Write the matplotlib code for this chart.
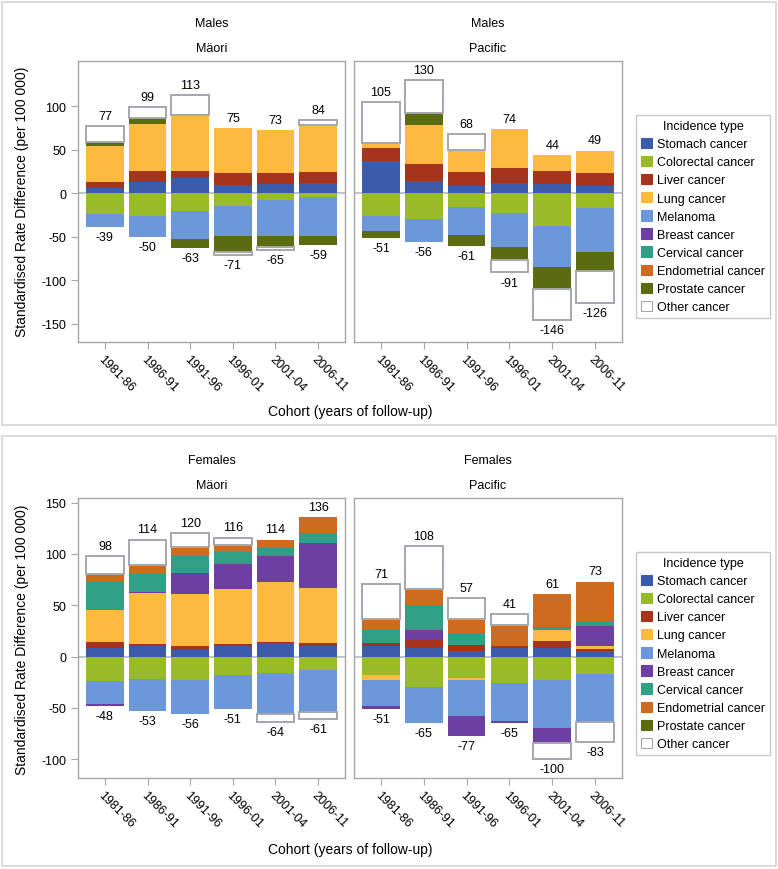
import numpy as np
import matplotlib.pyplot as plt
from matplotlib.patches import Patch, Rectangle

plt.rcParams['font.family'] = ['Liberation Sans', 'DejaVu Sans']
plt.rcParams['axes.unicode_minus'] = False
SIZE = 9

cohorts = ['1981-86', '1986-91', '1991-96', '1996-01', '2001-04', '2006-11']
cancers = ['Stomach cancer', 'Colorectal cancer', 'Liver cancer', 'Lung cancer',
           'Melanoma', 'Breast cancer', 'Cervical cancer', 'Endometrial cancer',
           'Prostate cancer', 'Other cancer']
colors = ['#3d5bab', '#9abb29', '#a6331c', '#fcbb40', '#6c97d8',
          '#6e3fa2', '#2f9f86', '#cf6a21', '#5a6b11', 'white']

# rows follow `cancers`, columns follow `cohorts`
males_maori = [
    [6, 13, 17, 10, 11, 12],
    [-24, -26, -20, -15, -8, -4],
    [7, 12, 9, 13, 12, 12],
    [41, 55, 64, 52, 50, 55],
    [-15, -24, -33, -34, -41, -45],
    [0, 0, 0, 0, 0, 0],
    [0, 0, 0, 0, 0, 0],
    [0, 0, 0, 0, 0, 0],
    [5, 6, -10, -19, -13, -10],
    [18, 13, 23, -3, -3, 5],
]
males_pacific = [
    [37, 14, 8, 12, 11, 8],
    [-26, -30, -16, -23, -38, -17],
    [15, 20, 16, 17, 15, 15],
    [6, 44, 26, 45, 18, 26],
    [-17, -26, -32, -39, -47, -50],
    [0, 0, 0, 0, 0, 0],
    [0, 0, 0, 0, 0, 0],
    [0, 0, 0, 0, 0, 0],
    [-8, 14, -13, -15, -25, -22],
    [47, 38, 18, -14, -36, -37],
]
females_maori = [
    [8, 10, 6, 10, 13, 10],
    [-24, -22, -23, -18, -16, -13],
    [6, 2, 4, 2, 1, 3],
    [31, 50, 51, 54, 59, 54],
    [-22, -31, -33, -33, -40, -41],
    [-2, 1, 20, 24, 25, 44],
    [28, 17, 17, 12, 8, 9],
    [7, 9, 9, 7, 8, 16],
    [0, 0, 0, 0, 0, 0],
    [18, 25, 13, 7, -8, -7],
]
females_pacific = [
    [10, 8, 5, 8, 8, 5],
    [-18, -30, -21, -26, -23, -17],
    [3, 8, 6, 2, 7, 2],
    [-5, 0, -2, 0, 11, 3],
    [-25, -35, -35, -37, -47, -47],
    [-3, 10, -19, -2, -14, 20],
    [13, 24, 12, 0, 3, 5],
    [11, 16, 14, 21, 32, 38],
    [0, 0, 0, 0, 0, 0],
    [34, 42, 20, 10, -16, -19],
]

W, H = 778, 870
fig = plt.figure(figsize=(W / 100, H / 100), dpi=100)


def fx(px):
    return px / W


def fy(py):
    return 1 - py / H


GREY = '#a4a8ac'


def draw_panel(ax, data, ylim, yticks, show_y):
    x = np.arange(len(cohorts))
    pos = np.zeros(len(cohorts))
    neg = np.zeros(len(cohorts))
    for name, col, vals in zip(cancers, colors, data):
        vals = np.array(vals, float)
        edge = GREY if name == 'Other cancer' else 'none'
        lw = 1.4 if name == 'Other cancer' else 0
        m = vals > 0
        if m.any():
            ax.bar(x[m], vals[m], bottom=pos[m], width=0.88, color=col,
                   edgecolor=edge, linewidth=lw, zorder=2)
            pos[m] += vals[m]
        m = vals < 0
        if m.any():
            ax.bar(x[m], vals[m], bottom=neg[m], width=0.88, color=col,
                   edgecolor=edge, linewidth=lw, zorder=2)
            neg[m] += vals[m]
    for xi, p, n in zip(x, pos, neg):
        ax.annotate('%d' % p, (xi, p), xytext=(0, 3), textcoords='offset points',
                    ha='center', va='bottom', fontsize=SIZE)
        ax.annotate('%d' % n, (xi, n), xytext=(0, -3), textcoords='offset points',
                    ha='center', va='top', fontsize=SIZE)
    ax.axhline(0, color='#b8bec4', lw=1.3, zorder=1)
    ax.set_xlim(-0.63, 5.63)
    ax.set_ylim(*ylim)
    ax.set_xticks(x)
    ax.set_xticklabels(cohorts, rotation=-45, ha='left', va='top',
                       rotation_mode='anchor', fontsize=SIZE)
    ax.tick_params(axis='x', length=5, color=GREY, pad=3)
    if show_y:
        ax.set_yticks(yticks)
        ax.tick_params(axis='y', length=5, color=GREY, labelsize=SIZE)
    else:
        ax.set_yticks([])
    for s in ax.spines.values():
        s.set_color(GREY)
        s.set_linewidth(1.0)


# section frames
for y0, y1 in [(3, 426), (437, 867)]:
    fig.patches.append(Rectangle((fx(2), fy(y1)), fx(774), (y1 - y0) / H,
                                 transform=fig.transFigure, fill=False,
                                 edgecolor='#d4d4d4', lw=1.2))

panels = [
    (males_maori, 78, 345, 62, 343, (-171, 152), [-150, -100, -50, 0, 50, 100], True, 'Males', 'Mäori'),
    (males_pacific, 354, 622, 62, 343, (-171, 152), [], False, 'Males', 'Pacific'),
    (females_maori, 78, 345, 499, 779, (-118.4, 154.5), [-100, -50, 0, 50, 100, 150], True, 'Females', 'Mäori'),
    (females_pacific, 354, 622, 499, 779, (-118.4, 154.5), [], False, 'Females', 'Pacific'),
]
for data, x0, x1, y0, y1, ylim, yt, show_y, sex, eth in panels:
    ax = fig.add_axes([fx(x0), fy(y1), (x1 - x0) / W, (y1 - y0) / H])
    draw_panel(ax, data, ylim, yt, show_y)
    xc = fx((x0 + x1) / 2)
    fig.text(xc, fy(y0 - 38), sex, ha='center', va='center', fontsize=SIZE)
    fig.text(xc, fy(y0 - 13), eth, ha='center', va='center', fontsize=SIZE)

fig.text(fx(22), fy(202), 'Standardised Rate Difference (per 100 000)', rotation=90,
         ha='center', va='center', fontsize=10)
fig.text(fx(22), fy(640), 'Standardised Rate Difference (per 100 000)', rotation=90,
         ha='center', va='center', fontsize=10)
fig.text(fx(350), fy(412), 'Cohort (years of follow-up)', ha='center', va='center', fontsize=10)
fig.text(fx(350), fy(850), 'Cohort (years of follow-up)', ha='center', va='center', fontsize=10)

handles = [Patch(facecolor=c, edgecolor=(GREY if c == 'white' else c), lw=0.8)
           for c in colors]
for ytop in [116, 553]:
    fig.legend(handles, cancers, title='Incidence type', loc='upper left',
               bbox_to_anchor=(fx(636), fy(ytop)), fontsize=SIZE, title_fontsize=SIZE,
               handlelength=0.9, handleheight=0.9, handletextpad=0.4,
               labelspacing=0.45, borderpad=0.4, borderaxespad=0,
               fancybox=False, edgecolor='#c8c8c8', framealpha=1)

fig.savefig('out.png', dpi=100)
